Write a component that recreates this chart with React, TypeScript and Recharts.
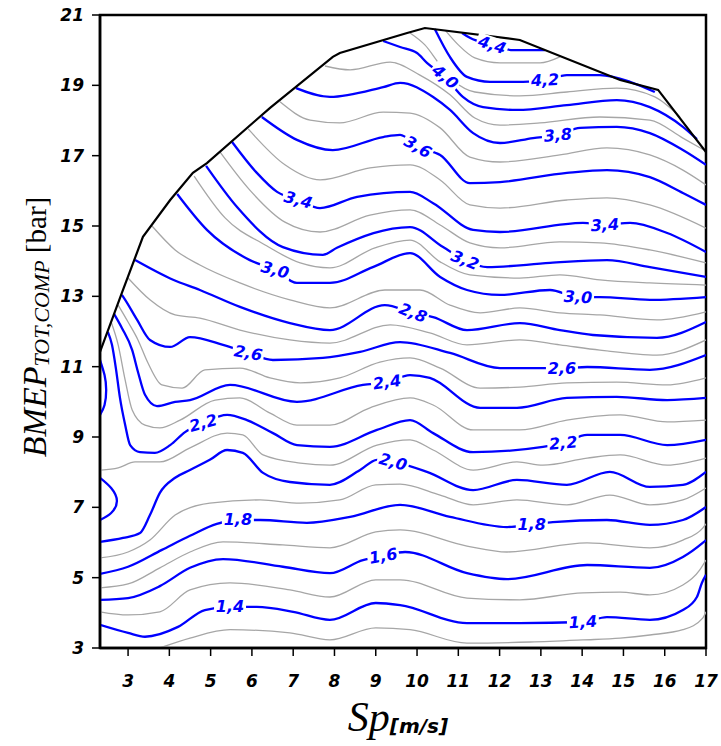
import { LineChart, Line, XAxis, YAxis, ReferenceDot, ReferenceArea } from 'recharts'

type Pt = [number, number]

const xTicks = [3, 4, 5, 6, 7, 8, 9, 10, 11, 12, 13, 14, 15, 16, 17]
const yTicks = [3, 5, 7, 9, 11, 13, 15, 17, 19, 21]

// operating envelope (full load curve)
const envelope: Pt[] = [
  [2.32, 11.42], [2.85, 13.1], [3.36, 14.69], [4.02, 15.74], [4.57, 16.51], [4.91, 16.79], [6.44, 18.36],
  [7.96, 19.81], [8.13, 19.92], [9.76, 20.49], [10.19, 20.63], [12.49, 20.29], [14.92, 19.15], [15.84, 18.87], [17.0, 17.1],
]

// labelled (blue) iso-lines, every 0.2
const c14: Pt[] = [
  [2.32, 3.66], [3.0, 3.43], [3.41, 3.32], [4.21, 3.6], [4.86, 4.08], [5.47, 4.17], [6.12, 4.17], [7.0, 4.03], [7.89, 3.8],
  [9.0, 4.28], [9.59, 4.22], [11.21, 3.71], [12.49, 3.71], [14.02, 3.74], [14.6, 3.88], [15.64, 3.8], [16.44, 4.08],
  [16.78, 4.45], [16.9, 4.85], [17.0, 5.08],
]
const c16: Pt[] = [
  [2.32, 4.37], [3.0, 4.42], [3.77, 4.76], [4.5, 5.28], [5.3, 5.53], [6.75, 5.31], [7.89, 5.13], [8.69, 5.5], [9.18, 5.62],
  [9.71, 5.73], [11.21, 5.13], [12.18, 4.96], [14.12, 5.36], [15.64, 5.28], [16.44, 5.59], [16.92, 5.99], [17.0, 6.07],
]
const c18: Pt[] = [
  [2.32, 5.11], [3.0, 5.31], [3.82, 5.79], [4.5, 6.19], [5.15, 6.53], [5.66, 6.64], [6.2, 6.64], [7.33, 6.56], [8.38, 6.73],
  [9.59, 7.07], [10.8, 6.73], [12.18, 6.44], [12.78, 6.5], [13.29, 6.58], [14.6, 6.64], [15.64, 6.5], [16.44, 6.64], [17.0, 7.01],
]
const c20: Pt[] = [
  [2.32, 6.02], [2.88, 6.13], [3.29, 6.27], [3.53, 6.78], [3.77, 7.41], [4.14, 7.84], [4.5, 8.06], [4.98, 8.35], [5.4, 8.63],
  [5.78, 8.55], [6.27, 7.98], [6.92, 7.72], [7.89, 7.64], [8.62, 8.06], [9.03, 8.35], [9.42, 8.29], [10.24, 8.01], [11.36, 7.49],
  [12.42, 7.78], [13.63, 7.64], [14.67, 8.01], [15.64, 7.58], [16.44, 7.64], [17.0, 8.01],
]
const c22: Pt[] = [
  [2.51, 11.99], [2.61, 11.62], [2.71, 10.91], [2.8, 10.14], [2.93, 9.34], [3.05, 8.77], [3.29, 8.57], [3.65, 8.55],
  [4.02, 8.77], [4.38, 9.14], [4.82, 9.4], [5.4, 9.63], [5.88, 9.48], [6.51, 9.11], [7.09, 8.77], [7.89, 8.72], [9.03, 9.2],
  [9.83, 9.48], [10.39, 9.11], [11.36, 8.57], [13.05, 8.72], [13.54, 8.83], [14.12, 9.06], [14.92, 9.06], [16.06, 8.77], [17.0, 8.92],
]
const c24: Pt[] = [
  [2.66, 12.5], [2.85, 12.1], [3.1, 11.47], [3.24, 10.85], [3.41, 10.2], [3.7, 9.88], [4.14, 10.0], [4.5, 10.05], [5.47, 10.48],
  [7.09, 10.0], [8.69, 10.48], [9.27, 10.56], [9.83, 10.76], [10.31, 10.68], [11.53, 9.83], [12.42, 9.83], [13.63, 10.11],
  [14.84, 10.14], [16.06, 10.05], [17.0, 10.11],
]
const c26: Pt[] = [
  [2.85, 13.04], [2.93, 12.9], [3.22, 12.33], [3.53, 11.76], [4.02, 11.56], [4.5, 11.84], [5.3, 11.62], [5.91, 11.39],
  [6.51, 11.19], [7.72, 11.25], [8.62, 11.42], [9.59, 11.7], [10.8, 11.39], [12.01, 10.96], [13.51, 10.96], [14.12, 10.99],
  [15.64, 10.91], [17.0, 11.33],
]
const c28: Pt[] = [
  [3.17, 14.03], [4.09, 13.47], [4.74, 13.18], [5.71, 12.7], [6.92, 12.24], [7.89, 12.04], [9.22, 12.75], [9.9, 12.53],
  [10.39, 12.41], [11.21, 12.04], [12.49, 12.24], [13.46, 12.04], [14.26, 11.9], [15.81, 11.82], [17.0, 12.27],
]
const c30: Pt[] = [
  [4.19, 15.91], [4.91, 14.89], [5.95, 14.03], [6.56, 13.75], [7.09, 13.38], [7.89, 13.38], [8.93, 13.83], [9.83, 14.23],
  [10.56, 13.55], [11.21, 13.18], [12.01, 13.04], [13.22, 13.18], [13.9, 12.98], [14.43, 12.98], [15.64, 12.9], [17.0, 12.98],
]
const c32: Pt[] = [
  [4.89, 16.71], [5.64, 15.54], [6.75, 14.4], [7.72, 14.18], [8.06, 14.38], [9.83, 14.97], [10.63, 14.4], [11.16, 14.03],
  [11.7, 13.83], [13.22, 13.95], [14.6, 14.03], [15.64, 13.83], [17.0, 13.55],
]
const c34: Pt[] = [
  [5.52, 17.39], [6.12, 16.51], [6.61, 15.97], [7.12, 15.74], [7.65, 15.51], [8.55, 15.83], [9.83, 15.97], [10.39, 15.65],
  [11.36, 14.89], [12.01, 14.83], [14.02, 15.09], [14.55, 15.03], [15.16, 15.09], [16.06, 14.8], [17.0, 14.26],
]
const c36: Pt[] = [
  [6.24, 18.1], [7.09, 17.45], [7.96, 17.16], [9.18, 17.53], [9.59, 17.59], [10.02, 17.25], [10.56, 17.02], [11.28, 16.22],
  [12.01, 16.25], [13.63, 16.51], [14.6, 16.59], [15.64, 16.39], [16.44, 15.94], [17.0, 15.6],
]
const c38: Pt[] = [
  [7.07, 18.92], [7.89, 18.67], [9.18, 18.95], [9.59, 19.07], [10.39, 18.67], [10.8, 18.3], [11.36, 17.64], [12.01, 17.36],
  [12.81, 17.5], [13.41, 17.59], [13.95, 17.79], [14.84, 17.82], [15.64, 17.64], [16.44, 17.16], [17.0, 16.74],
]
const c40: Pt[] = [
  [9.18, 20.26], [9.59, 20.09], [10.0, 19.92], [10.24, 19.64], [10.68, 19.24], [11.11, 18.67], [11.6, 18.38], [12.42, 18.3],
  [13.63, 18.44], [14.84, 18.58], [15.64, 18.38], [16.44, 17.82], [16.78, 17.47],
]
const c42: Pt[] = [
  [10.43, 20.6], [10.8, 19.8], [11.21, 19.24], [11.77, 19.1], [12.57, 19.1], [13.1, 19.15], [13.63, 19.29], [14.43, 19.29],
  [15.16, 19.1], [15.76, 18.81],
]
const c44: Pt[] = [[11.09, 20.49], [11.28, 20.35], [11.82, 20.15], [12.33, 20.0], [13.1, 20.0]]

// small closed pieces at the left border
const loopA: Pt[] = [[2.32, 11.19], [2.43, 10.76], [2.47, 10.34], [2.43, 9.91], [2.32, 9.63]]
const loopB: Pt[] = [[2.32, 7.84], [2.59, 7.55], [2.73, 7.18], [2.59, 6.84], [2.32, 6.64]]

// thin (grey) iso-lines in between
const g13: Pt[] = [
  [3.77, 3.0], [4.5, 3.28], [5.47, 3.52], [6.92, 3.43], [7.89, 3.23], [9.0, 3.57], [9.83, 3.52], [11.21, 3.14], [12.74, 3.17],
  [14.02, 3.23], [14.92, 3.28], [15.64, 3.37], [16.44, 3.52], [16.92, 3.85], [17.0, 4.03],
]
const g15: Pt[] = [
  [2.32, 4.03], [3.0, 3.94], [3.77, 4.03], [4.5, 4.65], [5.47, 4.85], [6.92, 4.65], [7.89, 4.45], [9.0, 4.94], [9.59, 4.94],
  [11.21, 4.42], [12.49, 4.37], [14.02, 4.57], [14.92, 4.59], [15.64, 4.51], [16.44, 4.79], [16.85, 5.22], [17.0, 5.5],
]
const g17: Pt[] = [
  [2.32, 4.71], [3.0, 4.82], [3.77, 5.28], [4.5, 5.73], [5.3, 6.02], [6.75, 5.93], [7.89, 5.85], [9.0, 6.3], [9.59, 6.36],
  [11.21, 5.9], [12.18, 5.73], [14.12, 5.99], [15.64, 5.85], [16.44, 6.07], [16.92, 6.41], [17.0, 6.53],
]
const g19: Pt[] = [
  [2.32, 5.56], [3.0, 5.73], [3.53, 6.07], [4.14, 6.78], [4.98, 7.12], [6.2, 7.21], [7.17, 7.12], [8.13, 7.21], [9.0, 7.64],
  [9.59, 7.66], [10.56, 7.35], [11.36, 7.07], [12.42, 7.21], [13.63, 7.07], [14.67, 7.35], [15.64, 7.07], [16.44, 7.21], [17.0, 7.55],
]
const g21: Pt[] = [
  [2.34, 8.06], [2.76, 8.12], [3.17, 8.29], [3.77, 8.29], [4.5, 8.69], [5.4, 9.11], [5.78, 9.06], [6.27, 8.49], [7.17, 8.26],
  [7.89, 8.2], [9.03, 8.77], [9.83, 8.92], [10.39, 8.63], [11.36, 8.06], [12.42, 8.29], [13.05, 8.2], [14.12, 8.4],
  [14.92, 8.49], [16.06, 8.2], [17.0, 8.4],
]
const g23: Pt[] = [
  [2.59, 12.27], [2.76, 11.62], [2.93, 10.62], [3.1, 9.77], [3.41, 9.34], [3.77, 9.26], [4.26, 9.48], [5.11, 10.05],
  [5.71, 10.11], [6.44, 9.68], [7.09, 9.34], [7.89, 9.34], [8.86, 9.83], [9.83, 10.11], [10.39, 9.91], [11.36, 9.2],
  [12.49, 9.2], [13.63, 9.48], [14.92, 9.63], [16.06, 9.43], [17.0, 9.48],
]
const g25: Pt[] = [
  [2.76, 12.75], [3.0, 12.27], [3.24, 11.76], [3.48, 11.11], [3.82, 10.48], [4.31, 10.39], [4.86, 10.91], [5.71, 10.96],
  [6.44, 10.68], [7.17, 10.54], [8.13, 10.68], [9.1, 11.13], [9.83, 11.25], [10.56, 10.96], [11.53, 10.39], [12.49, 10.42],
  [13.63, 10.54], [14.84, 10.56], [16.06, 10.48], [17.0, 10.68],
]
const g27: Pt[] = [
  [3.0, 13.52], [3.53, 12.9], [4.14, 12.47], [4.74, 12.38], [5.71, 12.04], [6.92, 11.76], [7.89, 11.67], [9.35, 12.19],
  [10.31, 11.96], [11.21, 11.62], [12.49, 11.76], [13.46, 11.62], [14.43, 11.47], [15.81, 11.33], [17.0, 11.76],
]
const g29: Pt[] = [
  [3.58, 15.0], [4.14, 14.32], [4.74, 13.89], [5.71, 13.38], [6.92, 12.9], [7.89, 12.67], [9.22, 13.18], [10.07, 13.18],
  [10.8, 12.75], [11.53, 12.53], [12.49, 12.67], [13.46, 12.53], [14.43, 12.47], [15.81, 12.33], [17.0, 12.56],
]
const g31: Pt[] = [
  [4.6, 16.42], [5.35, 15.23], [6.32, 14.46], [7.17, 13.95], [7.89, 13.81], [8.98, 14.38], [9.83, 14.6], [10.56, 13.98],
  [11.28, 13.61], [12.49, 13.52], [13.46, 13.61], [14.43, 13.47], [15.64, 13.38], [17.0, 13.32],
]
const g33: Pt[] = [
  [5.23, 17.1], [5.95, 16.02], [6.8, 15.11], [7.65, 14.83], [8.86, 15.31], [9.83, 15.46], [10.56, 15.03], [11.28, 14.52],
  [12.01, 14.38], [13.46, 14.55], [14.43, 14.52], [15.64, 14.32], [17.0, 13.95],
]
const g35: Pt[] = [
  [5.91, 17.76], [6.8, 16.74], [7.65, 16.31], [8.86, 16.65], [9.83, 16.74], [10.56, 16.31], [11.28, 15.6], [12.01, 15.51],
  [13.63, 15.74], [14.6, 15.8], [15.64, 15.6], [17.0, 14.94],
]
const g37: Pt[] = [
  [6.68, 18.53], [7.41, 18.01], [8.13, 17.93], [9.18, 18.24], [9.83, 18.21], [10.56, 17.79], [11.28, 16.96], [12.01, 16.82],
  [13.46, 17.02], [14.6, 17.22], [15.64, 17.02], [16.44, 16.59], [17.0, 16.17],
]
const g39: Pt[] = [
  [7.77, 19.55], [8.38, 19.44], [9.35, 19.66], [10.07, 19.29], [10.8, 18.73], [11.4, 18.07], [12.01, 17.87], [12.98, 17.93],
  [14.43, 18.1], [15.64, 18.01], [16.44, 17.5], [16.95, 17.16],
]
const g41: Pt[] = [
  [9.83, 20.49], [10.19, 20.15], [10.56, 19.58], [10.92, 19.1], [11.4, 18.81], [12.49, 18.7], [13.63, 18.81], [14.84, 18.92],
  [15.76, 18.67], [16.37, 18.1],
]
const g43: Pt[] = [[10.68, 20.57], [11.0, 20.15], [11.4, 19.78], [12.01, 19.64], [12.98, 19.64], [13.46, 19.81]]

const blueLines = [c14, c16, c18, c20, c22, c24, c26, c28, c30, c32, c34, c36, c38, c40, c42, c44]
const blueLoops = [loopA, loopB]
const greyLines = [g13, g15, g17, g19, g21, g23, g25, g27, g29, g31, g33, g35, g37, g39, g41, g43]

const contourLabels = [
  { text: '4,4', x: 11.82, y: 20.15, angle: 18 },
  { text: '4,2', x: 13.1, y: 19.15, angle: -3 },
  { text: '4,0', x: 10.68, y: 19.24, angle: 40 },
  { text: '3,8', x: 13.41, y: 17.59, angle: -5 },
  { text: '3,6', x: 10.02, y: 17.25, angle: 30 },
  { text: '3,4', x: 7.12, y: 15.74, angle: 15 },
  { text: '3,4', x: 14.55, y: 15.03, angle: -3 },
  { text: '3,2', x: 11.16, y: 14.03, angle: 22 },
  { text: '3,0', x: 6.56, y: 13.75, angle: 15 },
  { text: '3,0', x: 13.9, y: 12.98, angle: 3 },
  { text: '2,8', x: 9.9, y: 12.53, angle: 22 },
  { text: '2,6', x: 5.91, y: 11.39, angle: 10 },
  { text: '2,6', x: 13.51, y: 10.96, angle: 0 },
  { text: '2,4', x: 9.27, y: 10.56, angle: -8 },
  { text: '2,2', x: 4.82, y: 9.4, angle: -15 },
  { text: '2,2', x: 13.54, y: 8.83, angle: -5 },
  { text: '2,0', x: 9.42, y: 8.29, angle: 15 },
  { text: '1,8', x: 5.66, y: 6.64, angle: 0 },
  { text: '1,8', x: 12.78, y: 6.5, angle: 0 },
  { text: '1,6', x: 9.18, y: 5.62, angle: -10 },
  { text: '1,4', x: 5.47, y: 4.17, angle: 0 },
  { text: '1,4', x: 14.02, y: 3.74, angle: -3 },
]

const toRows = (pts: Pt[]) => pts.map(([x, y]) => ({ x, y }))

const tickFont = { fill: '#000', fontSize: 17, fontWeight: 700, fontStyle: 'italic', fontFamily: 'DejaVu Sans' }

function labelShape(text: string, angle: number) {
  return (props: any) => {
    const w = text.length * 10 + 2
    return (
      <g transform={`translate(${props.cx},${props.cy}) rotate(${angle})`}>
        <rect x={-w / 2} y={-8} width={w} height={16} fill="#fff" />
        <text
          textAnchor="middle"
          dominantBaseline="central"
          fill="#0000ff"
          fontSize={16}
          fontWeight={700}
          fontStyle="italic"
          fontFamily="DejaVu Sans"
        >
          {text}
        </text>
      </g>
    )
  }
}

export default function App() {
  return (
    <div style={{ position: 'absolute', left: 0, top: 0, width: 721, height: 746, background: '#fff' }}>
      <LineChart width={721} height={746} margin={{ top: 15, right: 15, bottom: 68, left: 0 }}>
        <XAxis
          type="number"
          dataKey="x"
          domain={[2.32, 17]}
          ticks={xTicks}
          interval={0}
          allowDataOverflow
          height={30}
          tickSize={8}
          tickMargin={19}
          axisLine={{ stroke: '#000', strokeWidth: 2.5 }}
          tickLine={{ stroke: '#000', strokeWidth: 1.5 }}
          tick={tickFont}
        />
        <YAxis
          type="number"
          domain={[3, 21]}
          ticks={yTicks}
          interval={0}
          allowDataOverflow
          width={100}
          tickSize={8}
          tickMargin={8}
          axisLine={{ stroke: '#000', strokeWidth: 2.5 }}
          tickLine={{ stroke: '#000', strokeWidth: 1.5 }}
          tick={tickFont}
        />
        {greyLines.map((pts, i) => (
          <Line key={'g' + i} data={toRows(pts)} dataKey="y" type="monotone" stroke="#a6a6a6" strokeWidth={1.3}
            dot={false} activeDot={false} isAnimationActive={false} />
        ))}
        {blueLines.map((pts, i) => (
          <Line key={'b' + i} data={toRows(pts)} dataKey="y" type="monotone" stroke="#0000ff" strokeWidth={2.3}
            dot={false} activeDot={false} isAnimationActive={false} />
        ))}
        {blueLoops.map((pts, i) => (
          <Line key={'l' + i} data={toRows(pts)} dataKey="y" type="natural" stroke="#0000ff" strokeWidth={2.3}
            dot={false} activeDot={false} isAnimationActive={false} />
        ))}
        <Line data={toRows(envelope)} dataKey="y" type="linear" stroke="#000" strokeWidth={2.2}
          dot={false} activeDot={false} isAnimationActive={false} />
        {contourLabels.map((l, i) => (
          <ReferenceDot key={'t' + i} x={l.x} y={l.y} r={10} shape={labelShape(l.text, l.angle)} />
        ))}
        <ReferenceArea x1={2.32} x2={17} y1={3} y2={21} fill="none" stroke="#000" strokeWidth={2.5} />
      </LineChart>

      <div style={{ position: 'absolute', left: 35, top: 327, transform: 'translate(-50%, -50%) rotate(-90deg)', whiteSpace: 'nowrap', color: '#000', lineHeight: 1 }}>
        <span style={{ fontFamily: 'Liberation Serif', fontStyle: 'italic', fontSize: 34 }}>BMEP</span>
        <span style={{ fontFamily: 'Liberation Serif', fontStyle: 'italic', fontSize: 22, position: 'relative', top: 3 }}>TOT,COMP</span>
        <span style={{ fontFamily: 'Liberation Serif', fontSize: 29 }}> [bar]</span>
      </div>
      <div style={{ position: 'absolute', left: 398, top: 717, transform: 'translate(-50%, -50%)', whiteSpace: 'nowrap', color: '#000', lineHeight: 1 }}>
        <span style={{ fontFamily: 'Liberation Serif', fontStyle: 'italic', fontSize: 42 }}>Sp</span>
        <span style={{ fontFamily: 'DejaVu Sans', fontStyle: 'italic', fontWeight: 700, fontSize: 20, position: 'relative', top: 2 }}>[m/s]</span>
      </div>
    </div>
  )
}
